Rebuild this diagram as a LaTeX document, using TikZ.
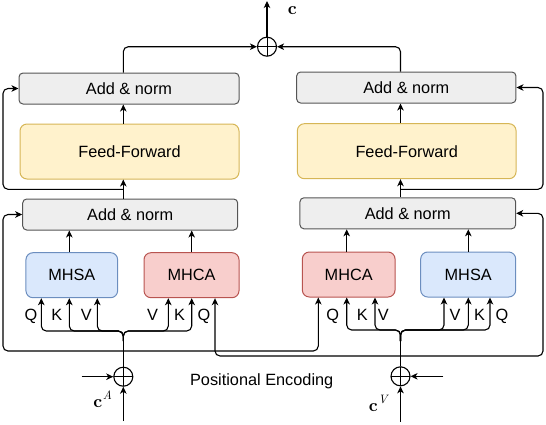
\RequirePackage{fix-cm}
\documentclass[tikz,border=0pt]{standalone}
\usepackage[no-math]{fontspec}
\setmainfont{Liberation Sans}
\newfontfamily\lmrfam{lmroman10-regular.otf}[BoldFont=lmroman10-bold.otf, ItalicFont=lmroman10-italic.otf]
\usetikzlibrary{arrows.meta,calc}
\definecolor{grayfill}{HTML}{EEEEEE}
\definecolor{graydraw}{HTML}{555555}
\definecolor{ffill}{HTML}{FFF2CC}
\definecolor{fdraw}{HTML}{D6B656}
\definecolor{bfill}{HTML}{DAE8FC}
\definecolor{bdraw}{HTML}{6C8EBF}
\definecolor{rfill}{HTML}{F8CECC}
\definecolor{rdraw}{HTML}{B85450}
\newcommand{\vecc}{{\lmrfam\bfseries\fontsize{17.5}{20}\selectfont c}}
\newcommand{\supit}[1]{\raisebox{8.7pt}{\lmrfam\itshape\fontsize{12.2}{14}\selectfont #1}}
\begin{document}
\begin{tikzpicture}[x=1pt,y=-1pt,
  font=\fontsize{16.3}{19}\selectfont,
  line width=1.1pt,
  arr/.style={-{Stealth[length=7pt,width=6.5pt,inset=2pt]}},
  rc/.style={rounded corners=5pt},
  anbox/.style={draw=graydraw, fill=grayfill, rounded corners=4pt, inner sep=0pt, minimum height=31pt, line width=1pt},
  ffbox/.style={draw=fdraw, fill=ffill, rounded corners=7pt, inner sep=0pt, minimum height=55pt, line width=1pt},
  sabox/.style={draw=bdraw, fill=bfill, rounded corners=7pt, inner sep=0pt, minimum height=45pt, line width=1pt},
  cabox/.style={draw=rdraw, fill=rfill, rounded corners=7pt, inner sep=0pt, minimum height=45pt, line width=1pt},
  plus/.style={circle, draw, minimum size=19pt, inner sep=0pt,
    path picture={\draw[line width=1pt] (path picture bounding box.north) -- (path picture bounding box.south)
      (path picture bounding box.west) -- (path picture bounding box.east);}},
  lbl/.style={anchor=base, inner sep=0pt},
  mlbl/.style={anchor=base west, inner sep=0pt}
]
\useasboundingbox (0,0) rectangle (546,424);

% boxes
\node[anbox, minimum width=220pt] (AN1L) at (129,88.5) {Add \& norm};
\node[ffbox, minimum width=219pt] (FFL) at (129.5,151.5) {Feed-Forward};
\node[anbox, minimum width=215pt] (AN2L) at (130.2,214.5) {Add \& norm};
\node[sabox, minimum width=91.7pt] (MHSAL) at (71.8,275.2) {MHSA};
\node[cabox, minimum width=95pt] (MHCAL) at (191.5,275.2) {MHCA};

\node[anbox, minimum width=219.3pt] (AN1R) at (406.3,87.5) {Add \& norm};
\node[ffbox, minimum width=218.7pt] (FFR) at (406.7,151.2) {Feed-Forward};
\node[anbox, minimum width=215.7pt] (AN2R) at (407.8,213.3) {Add \& norm};
\node[cabox, minimum width=92.7pt] (MHCAR) at (348.7,274.5) {MHCA};
\node[sabox, minimum width=95pt] (MHSAR) at (468.2,274.5) {MHSA};

\node[plus] (plusT) at (267,46.7) {};
\node[plus] (plusA) at (123.3,376.7) {};
\node[plus] (plusV) at (400.5,376.3) {};

% labels
\node[mlbl] (cOut) at (287.3,14) {\vecc};
\node[mlbl] (lcA) at (92.7,407.7) {\vecc\kern0.6pt\supit{A}};
\node[mlbl] (lcV) at (368.3,411.7) {\vecc\kern0.6pt\supit{V}};
\node[lbl] (pe) at (261.7,385) {Positional Encoding};

\node[lbl] (lQ1) at (31,320) {Q};
\node[lbl] (lK1) at (56.7,320) {K};
\node[lbl] (lV1) at (86.3,320) {V};
\node[lbl] (lV2) at (152.5,320) {V};
\node[lbl] (lK2) at (179.5,320) {K};
\node[lbl] (lQ2) at (204,320) {Q};
\node[lbl] (lQ3) at (332.7,320) {Q};
\node[lbl] (lK3) at (362.3,320) {K};
\node[lbl] (lV3) at (383.3,320) {V};
\node[lbl] (lV4) at (455,320) {V};
\node[lbl] (lK4) at (479.5,320) {K};
\node[lbl] (lQ4) at (502,320) {Q};

% helper coordinates
\coordinate (colL) at (123.3,0);
\coordinate (colR) at (400.5,0);
\coordinate (loopL) at (3,0);
\coordinate (loopR) at (543,0);
\coordinate (qSL) at (41.3,0);
\coordinate (kSL) at (69.3,0);
\coordinate (vSL) at (97.3,0);
\coordinate (vCL) at (168.3,0);
\coordinate (kCL) at (191.7,0);
\coordinate (qCL) at (215,0);
\coordinate (qCR) at (318.3,0);
\coordinate (kCR) at (346.7,0);
\coordinate (vCR) at (375,0);
\coordinate (vSR) at (444,0);
\coordinate (kSR) at (468.3,0);
\coordinate (qSR) at (490,0);
\coordinate (outT) at (267,1);
\coordinate (jL1) at (123.3,189.3);
\coordinate (jR1) at (400.5,189.3);
\coordinate (bA) at (123.3,331);
\coordinate (bA0) at (123.3,341);
\coordinate (jA) at (123.3,351);
\coordinate (bV) at (400.5,330);
\coordinate (bV0) at (400.5,341);
\coordinate (jV) at (400.5,356);
\coordinate (inA) at (123.3,421);
\coordinate (peA) at (81.7,376.7);
\coordinate (inV) at (400.5,421.7);
\coordinate (peV) at (443.3,376.3);

% top
\draw[arr,rc] (AN1L.north -| colL) |- (plusT.west);
\draw[arr,rc] (AN1R.north -| colR) |- (plusT.east);
\draw[arr] (plusT.north) -- (outT);

% left column
\draw[arr] (FFL.north -| colL) -- (AN1L.south -| colL);
\draw[arr] (AN2L.north -| colL) -- (FFL.south -| colL);
\draw[arr,rc] (jL1) -- (jL1 -| loopL) |- (AN1L.west);
\draw[arr] (MHSAL.north -| kSL) -- (AN2L.south -| kSL);
\draw[arr] (MHCAL.north -| kCL) -- (AN2L.south -| kCL);

% right column
\draw[arr] (FFR.north -| colR) -- (AN1R.south -| colR);
\draw[arr] (AN2R.north -| colR) -- (FFR.south -| colR);
\draw[arr,rc] (jR1) -- (jR1 -| loopR) |- (AN1R.east);
\draw[arr] (MHCAR.north -| kCR) -- (AN2R.south -| kCR);
\draw[arr] (MHSAR.north -| kSR) -- (AN2R.south -| kSR);

% audio branches
\draw (plusA.north) -- (bA0);
\foreach \t/\b in {qSL/MHSAL, kSL/MHSAL, vSL/MHSAL, vCL/MHCAL, kCL/MHCAL}
  \draw[arr,rc] (bA0) -- (bA) -- (bA -| \t) -- (\b.south -| \t);
\draw[arr,rc] (jA) -- (jA -| loopL) |- (AN2L.west);
\draw[arr,rc] (jA) -- (jA -| qCR) -- (MHCAR.south -| qCR);

% visual branches
\draw (plusV.north) -- (bV0);
\foreach \t/\b in {kCR/MHCAR, vCR/MHCAR, vSR/MHSAR, kSR/MHSAR, qSR/MHSAR}
  \draw[arr,rc] (bV0) -- (bV) -- (bV -| \t) -- (\b.south -| \t);
\draw[arr,rc] (jV) -- (jV -| loopR) |- (AN2R.east);
\draw[arr,rc] (jV) -- (jV -| qCL) -- (MHCAL.south -| qCL);

% inputs
\draw[arr] (inA) -- (plusA.south);
\draw[arr] (peA) -- (plusA.west);
\draw[arr] (inV) -- (plusV.south);
\draw[arr] (peV) -- (plusV.east);
\end{tikzpicture}
\end{document}
